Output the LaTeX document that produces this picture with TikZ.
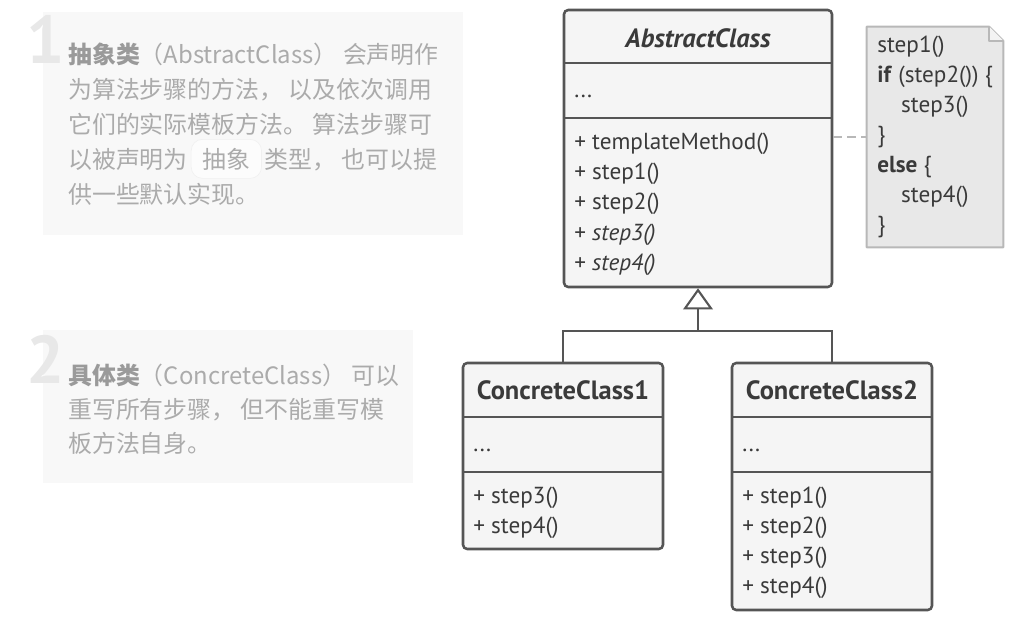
\documentclass[tikz,border=0pt]{standalone}
\usepackage{fontspec}
\setmainfont{PT Sans}
\newfontfamily\cjk{Noto Sans CJK SC}
\usetikzlibrary{arrows.meta,fit,calc,positioning}

\definecolor{umlline}{HTML}{555555}
\definecolor{umlfill}{HTML}{F5F5F5}
\definecolor{umltext}{HTML}{3A3A3A}
\definecolor{notefill}{HTML}{E8E8E8}
\definecolor{noteline}{HTML}{B8B8B8}
\definecolor{infobg}{HTML}{F8F8F8}
\definecolor{infotext}{HTML}{ABABAB}
\definecolor{infobold}{HTML}{9A9A9A}
\definecolor{infonum}{HTML}{E8E8E8}

\tikzset{
  classbox/.style={draw=umlline, fill=umlfill, line width=1.8pt, rounded corners=3pt, inner sep=0pt},
  classline/.style={draw=umlline, line width=1.8pt},
  classname/.style={text=umltext, font=\fontsize{18.8}{22}\selectfont\bfseries, inner sep=0pt},
  member/.style={text=umltext, font=\fontsize{16.5}{19}\selectfont, anchor=west, inner sep=0pt, text height=12pt, text depth=3pt},
  inherit/.style={draw=umlline, line width=1.5pt},
  notebox/.style={inner sep=0pt},
  noteshape/.style={draw=noteline, fill=notefill, line width=1.4pt, line join=round},
  notetext/.style={text=umltext, font=\fontsize{16.5}{21.3}\selectfont, align=left, anchor=north west, inner sep=0pt},
  noteedge/.style={draw=noteline, line width=1.4pt, dash pattern=on 6pt off 4pt},
  infobox/.style={fill=infobg},
  infonum/.style={text=infonum, font=\fontsize{48}{48}\selectfont\bfseries, inner sep=0pt},
  infoline/.style={text=infotext, font=\cjk\fontsize{17}{24}\selectfont, anchor=base west, inner sep=0pt},
  infopill/.style={text=infotext, font=\cjk\fontsize{17}{24}\selectfont, fill=white!60!infobg, draw=black!6, rounded corners=8pt, inner xsep=8pt, inner ysep=6pt}
}

\begin{document}
\begin{tikzpicture}[x=0.025cm, y=-0.025cm]
    \useasboundingbox (0,0) rectangle (1024,619);

    % info panels
    \fill[infobox] (43,12) rectangle (463,235);
    \fill[infobox] (43,330) rectangle (413,483);
    \node[infonum] (numOne) at (46,39) {1};
    \node[infonum] (numTwo) at (46,359) {2};

    \node[infoline] (infoOneA) at (68,63) {\textcolor{infobold}{\bfseries 抽象类}（AbstractClass） 会声明作};
    \node[infoline] (infoOneB) at (68,98) {为算法步骤的方法， 以及依次调用};
    \node[infoline] (infoOneC) at (68,133) {它们的实际模板方法。 算法步骤可};
    \node[infoline] (infoOneD) at (68,168) {以被声明为};
    \node[infopill, base right=2pt of infoOneD] (infoPill) {抽象};
    \node[infoline, base right=2pt of infoPill] (infoOneE) {类型， 也可以提};
    \node[infoline] (infoOneF) at (68,203) {供一些默认实现。};

    \node[infoline] (infoTwoA) at (68,384) {\textcolor{infobold}{\bfseries 具体类}（ConcreteClass） 可以};
    \node[infoline] (infoTwoB) at (68,418) {重写所有步骤， 但不能重写模};
    \node[infoline] (infoTwoC) at (68,452) {板方法自身。};

    % abstract class
    \node[classbox, fit={(564,10) (832,287)}] (abstract) {};
    \draw[classline] (564,63) -- (832,63);
    \draw[classline] (564,118) -- (832,118);
    \node[classname] (abstractName) at (698,38) {\itshape AbstractClass};
    \node[member] (abstractAttr) at (574,91) {...};
    \node[member] (abstractM1) at (574,143) {+ templateMethod()};
    \node[member] (abstractM2) at (574,173) {+ step1()};
    \node[member] (abstractM3) at (574,203) {+ step2()};
    \node[member] (abstractM4) at (574,234) {+ \textit{step3()}};
    \node[member] (abstractM5) at (574,264) {+ \textit{step4()}};

    % note
    \node[notebox, fit={(867,27) (1003,247)}] (note) {};
    \draw[noteshape] (note.north west) -- ($(note.north east)+(-14,0)$) -- ($(note.north east)+(0,14)$)
        -- (note.south east) -- (note.south west) -- cycle;
    \draw[noteshape, fill=white!50!notefill] ($(note.north east)+(-14,0)$) -- ($(note.north east)+(-14,14)$)
        -- ($(note.north east)+(0,14)$);
    \node[notetext] (noteCode) at (877,36) {step1()\\
        \textbf{if} (step2()) \{\\
        \hspace*{17pt}step3()\\
        \}\\
        \textbf{else} \{\\
        \hspace*{17pt}step4()\\
        \}};
    \draw[noteedge] (note.west -| abstract.east) -- (note.west);

    % concrete classes
    \node[classbox, fit={(463,363) (663,549)}] (concreteOne) {};
    \draw[classline] (463,417) -- (663,417);
    \draw[classline] (463,472) -- (663,472);
    \node[classname] (concreteOneName) at (563,390) {ConcreteClass1};
    \node[member] (concreteOneAttr) at (473,445) {...};
    \node[member] (concreteOneM1) at (473,497) {+ step3()};
    \node[member] (concreteOneM2) at (473,527) {+ step4()};

    \node[classbox, fit={(732,363) (932,610)}] (concreteTwo) {};
    \draw[classline] (732,417) -- (932,417);
    \draw[classline] (732,472) -- (932,472);
    \node[classname] (concreteTwoName) at (832,390) {ConcreteClass2};
    \node[member] (concreteTwoAttr) at (742,445) {...};
    \node[member] (concreteTwoM1) at (742,497) {+ step1()};
    \node[member] (concreteTwoM2) at (742,527) {+ step2()};
    \node[member] (concreteTwoM3) at (742,557) {+ step3()};
    \node[member] (concreteTwoM4) at (742,587) {+ step4()};

    % inheritance
    \coordinate (joint) at (698,331);
    \draw[inherit] (concreteOne.north) |- (joint) -| (concreteTwo.north);
    \draw[inherit, -{Triangle[open, length=15pt, width=21pt]}] (joint) -- (abstract.south);
\end{tikzpicture}
\end{document}
